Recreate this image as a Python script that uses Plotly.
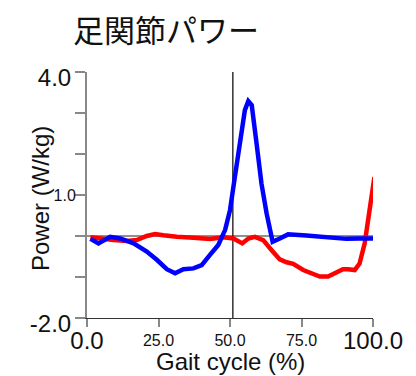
import plotly.graph_objects as go

# Data
blue_x = [1.2, 4, 8.1, 11.6, 16.3, 20.9, 24.4, 27.9, 30.8, 33.7, 37.2, 40.1, 43, 45.9, 48.3, 50,
          51.7, 53.5, 55.2, 56.4, 57.6, 59.3, 61, 62.8, 64.9, 67.4, 70.3, 76.7, 83.7, 90.7, 95.3, 100]
blue_y = [-0.07, -0.18, -0.02, -0.06, -0.18, -0.38, -0.58, -0.81, -0.91, -0.81, -0.79, -0.71, -0.46,
          -0.22, 0.15, 0.63, 1.44, 2.34, 3.07, 3.29, 3.19, 2.25, 1.28, 0.55, -0.14, -0.06, 0.04, 0.01,
          -0.02, -0.07, -0.06, -0.06]

red_x = [1.2, 4.7, 9.3, 14, 17.4, 20.9, 23.8, 26.7, 31.4, 37.2, 43, 47.7, 51.2, 54.3, 56.4, 58.7,
         61.6, 64.5, 67.4, 69.8, 72.1, 75.6, 79.1, 81.4, 84.3, 87.2, 89.5, 91.3, 93.6, 95.3, 97.1,
         98.8, 100.5]
red_y = [-0.03, -0.07, -0.1, -0.12, -0.1, 0, 0.05, 0.02, -0.02, -0.04, -0.07, -0.03, -0.06, -0.18,
         -0.06, -0.02, -0.1, -0.34, -0.57, -0.64, -0.68, -0.83, -0.93, -0.99, -0.99, -0.89, -0.81,
         -0.81, -0.83, -0.67, -0.18, 0.63, 1.44]

title_text = "足関節パワー"
x_title = "Gait cycle (%)"
y_title = "Power (W/kg)"
x_small_ticks = [0, 25, 50, 75, 100]
x_small_labels = ["", "25.0", "50.0", "75.0", ""]
x_big_ticks = [0, 100]
x_big_labels = ["0.0", "100.0"]
y_small_ticks = [-2, -1, 0, 1, 2, 3, 4]
y_small_labels = ["", "", "", "1.0", "", "", ""]
y_big_ticks = [-2, 4]
y_big_labels = ["-2.0", "4.0"]
stance_end = 51

FONT = "Liberation Sans, Arial, sans-serif"
# page body has an 8px default margin; figure sized to fit the window
OFF = 8
W, H = 416 - OFF, 376 - OFF
L, T, R, B = 87 - OFF, 72 - OFF, 43, 58
PW, PH = W - L - R, H - T - B

fig = go.Figure()
fig.add_trace(go.Scatter(x=red_x, y=red_y, mode="lines",
                         line=dict(color="#ff0000", width=4.5), showlegend=False))
fig.add_trace(go.Scatter(x=blue_x, y=blue_y, mode="lines",
                         line=dict(color="#0000ff", width=4.5), showlegend=False))

fig.add_shape(type="line", x0=0, x1=100, y0=0, y1=0, xref="x", yref="y",
              line=dict(color="#222222", width=1.2), layer="below")
fig.add_shape(type="line", x0=stance_end, x1=stance_end, y0=-2, y1=4, xref="x", yref="y",
              line=dict(color="#000000", width=1.2), layer="below")

fig.update_layout(
    width=W, height=H,
    margin=dict(l=L, r=R, t=T, b=B),
    paper_bgcolor="white", plot_bgcolor="white",
    font=dict(family=FONT, color="#111111"),
    title=dict(text=title_text, xref="container", yref="container", x=(73 - OFF) / W,
               xanchor="left", y=1 - (31 - OFF) / H, yanchor="middle",
               font=dict(family="Noto Sans CJK JP", size=31, color="#111111")),
    xaxis=dict(range=[0, 100], tickvals=x_small_ticks, ticktext=x_small_labels,
               ticks="outside", ticklen=8, tickwidth=2, tickcolor="#888888",
               showline=True, linecolor="#333333", linewidth=1.2, showgrid=False, zeroline=False,
               tickfont=dict(size=16, family=FONT, color="#111111"), fixedrange=True),
    xaxis2=dict(range=[0, 100], overlaying="x", side="bottom", tickvals=x_big_ticks,
                ticktext=x_big_labels, ticks="outside", ticklen=1, tickcolor="rgba(0,0,0,0)",
                showline=False, showgrid=False, zeroline=False,
                tickfont=dict(size=24, family=FONT, color="#111111")),
    yaxis=dict(range=[-2, 4], tickvals=y_small_ticks, ticktext=y_small_labels,
               ticks="outside", ticklen=10, tickwidth=2, tickcolor="#888888",
               showline=True, linecolor="#888888", linewidth=2, showgrid=False, zeroline=False,
               ticklabelstandoff=-4,
               tickfont=dict(size=16, family=FONT, color="#111111"), fixedrange=True),
    yaxis2=dict(range=[-2, 4], overlaying="y", side="left", tickvals=y_big_ticks,
                ticktext=y_big_labels, ticks="outside", ticklen=10, tickcolor="rgba(0,0,0,0)",
                showline=False, showgrid=False, zeroline=False, ticklabelshift=6,
                tickfont=dict(size=24, family=FONT, color="#111111")),
    annotations=[
        dict(text=x_title, xref="paper", yref="paper", x=0.5, y=-(361 - 318) / PH,
             xanchor="center", yanchor="middle", showarrow=False,
             font=dict(size=24, family=FONT, color="#111111")),
        dict(text=y_title, xref="paper", yref="paper", x=-(87 - 40) / PW, y=(318 - 199) / PH,
             xanchor="center", yanchor="middle", showarrow=False, textangle=-90,
             font=dict(size=24, family=FONT, color="#111111")),
    ],
)
# invisible trace to activate secondary axes
fig.add_trace(go.Scatter(x=[0], y=[0], xaxis="x2", yaxis="y2", mode="markers",
                         marker=dict(opacity=0), showlegend=False, hoverinfo="skip"))

fig.write_html("out.html")
